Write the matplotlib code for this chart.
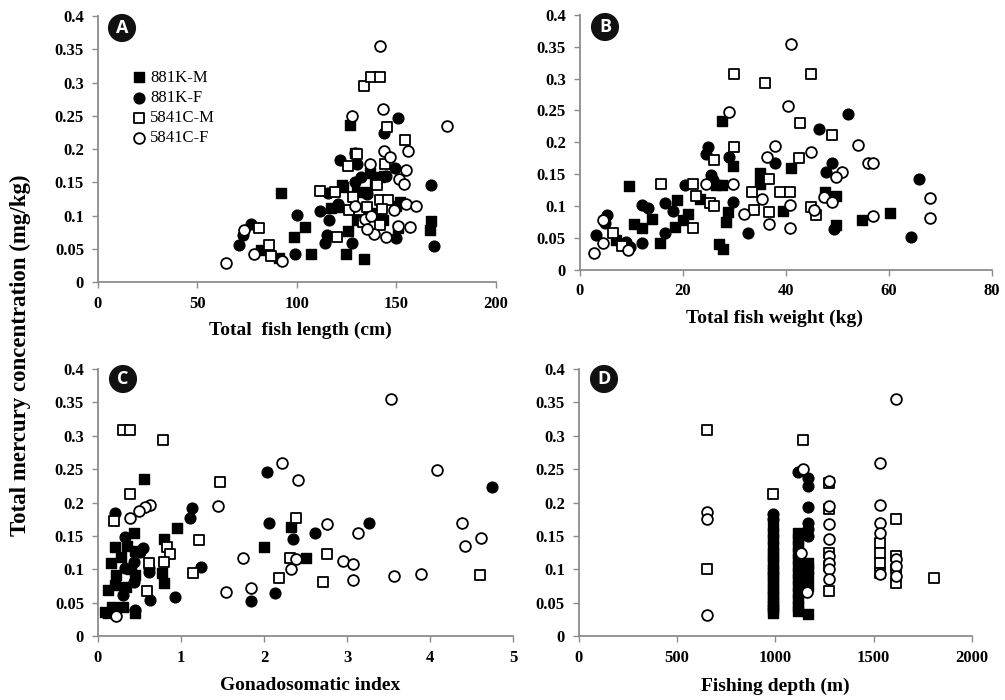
import matplotlib
matplotlib.use('Agg')
from matplotlib import pyplot as plt

# ---- data ----
series_names = ['881K-M', '881K-F', '5841C-M', '5841C-F']

# A: total fish length (cm)
a_m_x = [92, 126.5, 122.7, 136.6, 130, 135, 117.3, 120.7, 151.7, 150, 104, 98.4, 82, 91, 106.8,
         124.5, 133.7, 125.7, 130, 143, 137, 150.8, 167.6, 166.7, 143.8, 139, 129, 141.7, 123.3]
a_m_y = [0.134, 0.236, 0.146, 0.164, 0.135, 0.135, 0.111, 0.113, 0.121, 0.114, 0.0825, 0.068, 0.049, 0.0365, 0.0425,
         0.0425, 0.034, 0.0775, 0.094, 0.094, 0.104, 0.081, 0.0915, 0.079, 0.159, 0.152, 0.1935, 0.158, 0.143]
a_f_x = [150.8, 143.6, 121.5, 129, 130, 149.2, 129, 167.6, 115.7, 111.4, 100, 99.2, 77, 73, 70.7,
         114, 115, 116, 127.7, 135.8, 144.5, 150, 169, 140, 120.5, 135, 132]
a_f_y = [0.2465, 0.224, 0.184, 0.194, 0.1775, 0.1715, 0.15, 0.1465, 0.134, 0.1065, 0.1015, 0.043, 0.088, 0.0715, 0.0555,
         0.059, 0.0715, 0.094, 0.059, 0.104, 0.159, 0.0665, 0.054, 0.098, 0.118, 0.132, 0.158]
a_cm_x = [133.6, 137.4, 141.6, 145, 154.5, 130, 125.7, 144, 111.5, 119, 140.3, 126, 131, 141.6, 145.8,
          135, 142.5, 120, 133, 81, 86, 87, 141.5, 128]
a_cm_y = [0.295, 0.309, 0.309, 0.2325, 0.213, 0.193, 0.174, 0.177, 0.1375, 0.135, 0.1465, 0.108, 0.108, 0.124, 0.124,
          0.113, 0.11, 0.068, 0.09, 0.0815, 0.0565, 0.04, 0.086, 0.128]
a_cf_x = [141.6, 143, 127.9, 175.6, 143.6, 146.6, 155.9, 136.9, 155, 151.3, 153.7, 155, 159.7, 148.8, 129,
          134, 137, 138.6, 144.6, 150.8, 156.7, 73.2, 78.3, 92.7, 64.5, 135]
a_cf_y = [0.3555, 0.26, 0.25, 0.235, 0.1965, 0.188, 0.1975, 0.178, 0.169, 0.1555, 0.148, 0.118, 0.114, 0.109, 0.115,
          0.095, 0.1, 0.0725, 0.068, 0.085, 0.083, 0.079, 0.043, 0.0315, 0.029, 0.08]

# B: total fish weight (kg)
b_m_x = [27.5, 9.6, 29.7, 40.9, 34.9, 34.9, 26.5, 27.5, 18.9, 21, 18.4, 20, 23.3, 14, 10.5,
         12, 7.1, 15.5, 27, 27.7, 28.8, 28.4, 39.4, 47.5, 49.8, 49.8, 54.8, 60.3]
b_m_y = [0.234, 0.131, 0.1625, 0.16, 0.152, 0.134, 0.1335, 0.1335, 0.109, 0.088, 0.067, 0.0775, 0.1115, 0.079, 0.071,
         0.0645, 0.046, 0.041, 0.04, 0.033, 0.0905, 0.075, 0.092, 0.122, 0.115, 0.07, 0.0775, 0.0895]
b_f_x = [52, 46.4, 24.9, 24.5, 28.9, 37.8, 49, 47.8, 25.4, 25.8, 20.4, 29.7, 16.5, 12.1, 13.2,
         18.1, 16.5, 12, 5.2, 4.8, 3.2, 9, 9.7, 32.6, 49.4, 65.9, 64.3]
b_f_y = [0.244, 0.2215, 0.193, 0.181, 0.177, 0.1675, 0.1675, 0.1535, 0.149, 0.14, 0.1325, 0.106, 0.105, 0.101, 0.096,
         0.092, 0.058, 0.042, 0.085, 0.073, 0.054, 0.0435, 0.0356, 0.058, 0.063, 0.143, 0.0515]
b_cm_x = [29.9, 44.9, 36, 42.8, 48.9, 29.9, 26, 42.5, 36.8, 15.8, 22, 33.5, 38.9, 40.8, 22.5,
          25.2, 26, 33.9, 36.8, 44.9, 45.9, 22, 6.5, 8.1]
b_cm_y = [0.307, 0.307, 0.2925, 0.2295, 0.212, 0.193, 0.172, 0.1745, 0.143, 0.135, 0.134, 0.122, 0.122, 0.122, 0.116,
          0.105, 0.0995, 0.093, 0.0905, 0.0975, 0.0855, 0.066, 0.0566, 0.0367]
b_cf_x = [40.9, 28.9, 40.4, 37.9, 36.3, 44.9, 54, 55.9, 56.9, 50.9, 49.8, 24.4, 29.7, 35.3, 31.9,
          40.8, 47.4, 48.9, 45.4, 67.9, 67.9, 56.9, 36.8, 40.8, 4.5, 4.5, 2.7, 9.4]
b_cf_y = [0.354, 0.248, 0.257, 0.1945, 0.177, 0.185, 0.1955, 0.1675, 0.1675, 0.1535, 0.1457, 0.134, 0.134, 0.1115, 0.088,
          0.101, 0.114, 0.106, 0.093, 0.1125, 0.081, 0.084, 0.071, 0.066, 0.0776, 0.042, 0.0267, 0.0304]

# C: gonadosomatic index
c_m_x = [0.55, 0.95, 0.79, 0.43, 0.2, 0.35, 0.16, 0.77, 0.79, 0.45, 0.22, 0.45, 0.12, 0.2, 0.12,
         0.3, 0.45, 0.09, 0.17, 0.34, 2.33, 2.0, 2.5, 0.28, 0.4]
c_m_y = [0.235, 0.1615, 0.145, 0.154, 0.133, 0.135, 0.11, 0.095, 0.079, 0.127, 0.0915, 0.0915, 0.069, 0.077, 0.034,
         0.044, 0.034, 0.036, 0.044, 0.074, 0.164, 0.134, 0.1165, 0.118, 0.1]
c_f_x = [2.03, 4.75, 1.13, 1.11, 2.06, 3.27, 2.61, 2.35, 0.2, 1.24, 0.93, 0.63, 1.84, 2.13, 0.32,
         0.54, 0.51, 0.43, 0.62, 0.61, 0.32, 0.43, 0.3, 0.45]
c_f_y = [0.2455, 0.224, 0.1915, 0.1765, 0.17, 0.169, 0.154, 0.145, 0.184, 0.104, 0.059, 0.054, 0.053, 0.064, 0.149,
         0.1315, 0.1265, 0.1115, 0.1015, 0.0965, 0.1015, 0.0815, 0.0615, 0.039]
c_cm_x = [0.3, 0.38, 0.78, 1.47, 0.38, 0.19, 2.38, 1.22, 0.83, 0.87, 2.76, 2.31, 0.79, 0.61, 1.15,
          2.18, 2.71, 4.6, 0.59]
c_cm_y = [0.308, 0.308, 0.294, 0.2315, 0.213, 0.173, 0.1765, 0.144, 0.134, 0.123, 0.123, 0.1165, 0.1115, 0.109, 0.094,
          0.0865, 0.0815, 0.0915, 0.068]
c_cf_x = [3.53, 2.22, 4.08, 2.41, 1.45, 0.63, 0.57, 0.49, 0.38, 2.76, 3.13, 4.39, 4.42, 4.61, 1.75,
          2.39, 2.32, 2.95, 3.07, 3.07, 3.56, 3.89, 1.54, 1.84, 0.22]
c_cf_y = [0.355, 0.259, 0.249, 0.234, 0.195, 0.1965, 0.194, 0.1875, 0.1765, 0.168, 0.155, 0.17, 0.135, 0.1465, 0.1165,
          0.115, 0.1, 0.113, 0.1075, 0.084, 0.09, 0.093, 0.0665, 0.0715, 0.03]

# D: fishing depth (m)
d_m_x = [990, 990, 990, 990, 990, 990, 990, 990, 990, 990, 990, 990, 990, 990, 990, 990, 990, 990,
         1116, 1116, 1116, 1116, 1116, 1116, 1116, 1116, 1116, 1116, 1116, 1116, 1116,
         1167, 1167, 1167, 1167, 1167]
d_m_y = [0.165, 0.155, 0.145, 0.135, 0.125, 0.118, 0.11, 0.1, 0.095, 0.088, 0.08, 0.072, 0.065, 0.058, 0.05, 0.045, 0.04, 0.035,
         0.155, 0.145, 0.135, 0.125, 0.115, 0.105, 0.095, 0.085, 0.075, 0.065, 0.055, 0.045, 0.037,
         0.11, 0.1, 0.09, 0.075, 0.033]
d_f_x = [990, 990, 1116, 1167, 1167, 1167, 1167, 1167, 1167]
d_f_y = [0.183, 0.176, 0.246, 0.237, 0.225, 0.193, 0.17, 0.16, 0.15]
d_cm_x = [650, 650, 990, 1141, 1274, 1274, 1274, 1274, 1274, 1532, 1532, 1532, 1532, 1612, 1612, 1612, 1612, 1807]
d_cm_y = [0.308, 0.1, 0.213, 0.293, 0.23, 0.19, 0.125, 0.105, 0.067, 0.14, 0.125, 0.11, 0.095, 0.175, 0.12, 0.1, 0.08, 0.0865]
d_cf_x = [650, 650, 650, 1142, 1133, 1160, 1274, 1274, 1274, 1274, 1274, 1274, 1274, 1274,
          1532, 1532, 1532, 1532, 1532, 1612, 1612, 1612, 1612]
d_cf_y = [0.186, 0.176, 0.031, 0.25, 0.125, 0.066, 0.232, 0.195, 0.168, 0.146, 0.12, 0.11, 0.1, 0.085,
          0.259, 0.196, 0.17, 0.155, 0.093, 0.355, 0.115, 0.105, 0.09]

y_ticks = [0, 0.05, 0.1, 0.15, 0.2, 0.25, 0.3, 0.35, 0.4]
y_tick_labels = ['0', '0.05', '0.1', '0.15', '0.2', '0.25', '0.3', '0.35', '0.4']
a_ticks = [0, 50, 100, 150, 200]
b_ticks = [0, 20, 40, 60, 80]
c_ticks = [0, 1, 2, 3, 4, 5]
d_ticks = [0, 500, 1000, 1500, 2000]

serif = 'Liberation Serif'
grey = '#8c8c8c'

fig = plt.figure(figsize=(10.05, 7), dpi=100)


def panel(rect, xticks, data, letter, letter_xy):
    ax = fig.add_axes(rect)
    (mx, my), (fx, fy), (cmx, cmy), (cfx, cfy) = data
    ax.scatter(mx, my, marker='s', s=48, c='black', edgecolors='black', linewidths=1.0, label=series_names[0])
    ax.scatter(fx, fy, marker='o', s=60, c='black', edgecolors='black', linewidths=1.0, label=series_names[1])
    ax.scatter(cmx, cmy, marker='s', s=48, c='white', edgecolors='black', linewidths=1.3, label=series_names[2])
    ax.scatter(cfx, cfy, marker='o', s=60, c='white', edgecolors='black', linewidths=1.3, label=series_names[3])
    ax.set_xlim(xticks[0], xticks[-1])
    ax.set_ylim(0, 0.4)
    ax.set_xticks(xticks)
    ax.set_xticklabels([str(t) for t in xticks])
    ax.set_yticks(y_ticks)
    ax.set_yticklabels(y_tick_labels)
    for side in ['top', 'right']:
        ax.spines[side].set_visible(False)
    for side in ['left', 'bottom']:
        ax.spines[side].set_color(grey)
        ax.spines[side].set_linewidth(1.3)
    ax.tick_params(direction='out', length=4, width=1.0, color=grey, pad=6)
    for lab in ax.get_xticklabels() + ax.get_yticklabels():
        lab.set_fontfamily(serif)
        lab.set_fontweight('bold')
        lab.set_fontsize(12)
    fig.text(letter_xy[0] / 1005, 1 - letter_xy[1] / 700, letter, color='white', fontsize=13,
             fontweight='bold', family='Open Sans', ha='center', va='center',
             bbox=dict(boxstyle='circle,pad=0.28', fc='#111111', ec='none'))
    return ax


ax_a = panel([0.0975, 0.597, 0.396, 0.380], a_ticks,
             [(a_m_x, a_m_y), (a_f_x, a_f_y), (a_cm_x, a_cm_y), (a_cf_x, a_cf_y)], 'A', (122, 28))
ax_b = panel([0.577, 0.615, 0.410, 0.3636], b_ticks,
             [(b_m_x, b_m_y), (b_f_x, b_f_y), (b_cm_x, b_cm_y), (b_cf_x, b_cf_y)], 'B', (605, 27))
ax_c = panel([0.0975, 0.0914, 0.413, 0.3814], c_ticks,
             [(c_m_x, c_m_y), (c_f_x, c_f_y), (c_cm_x, c_cm_y), (c_cf_x, c_cf_y)], 'C', (123, 379))
ax_d = panel([0.576, 0.0914, 0.391, 0.3814], d_ticks,
             [(d_m_x, d_m_y), (d_f_x, d_f_y), (d_cm_x, d_cm_y), (d_cf_x, d_cf_y)], 'D', (604, 379))

leg = ax_a.legend(loc='upper left', bbox_to_anchor=(0.06, 0.823), frameon=False,
                  prop={'family': serif, 'size': 12}, handletextpad=0.1, labelspacing=0.25,
                  borderaxespad=0, handlelength=1.2, scatterpoints=1)

lab_kw = dict(family=serif, fontweight='bold', fontsize=14, ha='center', va='center')
fig.text(300 / 1005, 1 - 330 / 700, 'Total  fish length (cm)', **lab_kw)
fig.text(774 / 1005, 1 - 318 / 700, 'Total fish weight (kg)', **lab_kw)
fig.text(310 / 1005, 1 - 686 / 700, 'Gonadosomatic index', **lab_kw)
fig.text(775 / 1005, 1 - 686 / 700, 'Fishing depth (m)', **lab_kw)
fig.text(20 / 1005, 1 - 355 / 700, 'Total mercury concentration (mg/kg)', rotation=90,
         family=serif, fontweight='bold', fontsize=16.5, ha='center', va='center')

plt.savefig('out.png', dpi=100)
